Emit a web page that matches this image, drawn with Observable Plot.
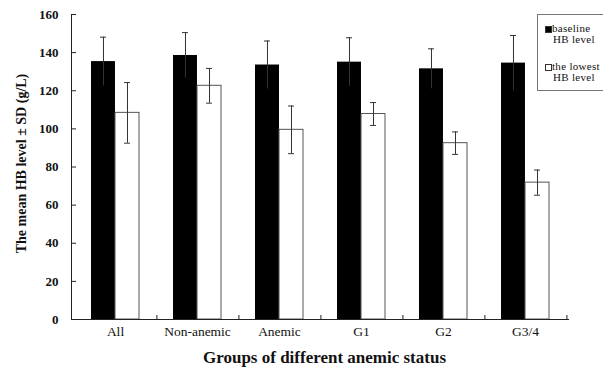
<!DOCTYPE html>
<html>
<head>
<meta charset="utf-8">
<script src="https://cdn.jsdelivr.net/npm/d3@7"></script>
<script src="https://cdn.jsdelivr.net/npm/@observablehq/plot@0.6"></script>
<style>
  html, body { margin: 0; padding: 0; background: #fff; }
  #wrap { position: relative; width: 603px; height: 374px; overflow: hidden; font-family: "Liberation Serif", "Times New Roman", serif; }
  #legend { position: absolute; left: 537px; top: 14px; width: 80px; height: 77px; border: 1px solid #777; box-sizing: border-box; font-size: 11px; color: #111; letter-spacing: 0.3px; }
  .item { position: absolute; left: 7px; line-height: 11px; }
  .sw { position: absolute; left: 0; width: 5px; height: 5px; border: 1px solid #333; }
  .txt { position: absolute; left: 7px; white-space: nowrap; }
</style>
</head>
<body>
<div id="wrap">
  <div id="chart"></div>
  <div id="legend"></div>
</div>
<script>
const groups = ["All", "Non-anemic", "Anemic", "G1", "G2", "G3/4"];
const baselineMean = [135.3, 138.5, 133.5, 135.0, 131.5, 134.5];
const baselineSD = [12.8, 12.0, 12.6, 12.8, 10.5, 14.5];
const lowestMean = [108.4, 122.6, 99.5, 107.8, 92.5, 71.8];
const lowestSD = [15.9, 9.1, 12.5, 6.0, 5.9, 6.6];
const yTicks = [0, 20, 40, 60, 80, 100, 120, 140, 160];
const seriesNames = ["baseline\nHB level", "the lowest\nHB level"];
const seriesColors = ["#000", "#fff"];

const data = groups.map((g, i) => ({
  group: g,
  base: baselineMean[i], baseSD: baselineSD[i],
  low: lowestMean[i], lowSD: lowestSD[i]
}));

const W = 603, H = 374, mL = 71, mR = 35, mT = 14, mB = 55;
const step = (W - mL - mR) / groups.length;
const bw = step * 0.58;
const half = bw / 2;
const cap = 3;
const serif = "Liberation Serif, Times New Roman, serif";

const chart = Plot.plot({
  width: W, height: H,
  marginLeft: mL, marginRight: mR, marginTop: mT, marginBottom: mB,
  style: { fontFamily: serif, background: "#fff", color: "#111" },
  x: { type: "band", domain: groups, paddingInner: 0.42, paddingOuter: 0.21 },
  y: { domain: [0, 160] },
  marks: [
    Plot.barY(data, { x: "group", y: "base", fill: seriesColors[0], insetRight: half }),
    Plot.barY(data, { x: "group", y: "low", fill: seriesColors[1], stroke: "#555", strokeWidth: 1, insetLeft: half }),
    // error bars baseline
    Plot.ruleX(data, { x: "group", y1: d => d.base - d.baseSD, y2: d => d.base + d.baseSD, dx: -half / 2, stroke: "#333" }),
    Plot.tickY(data, { x: "group", y: d => d.base + d.baseSD, insetLeft: half / 2 - cap, insetRight: bw - half / 2 - cap, stroke: "#333" }),
    // error bars lowest
    Plot.ruleX(data, { x: "group", y1: d => d.low - d.lowSD, y2: d => d.low + d.lowSD, dx: half / 2, stroke: "#333" }),
    Plot.tickY(data, { x: "group", y: d => d.low + d.lowSD, insetLeft: bw - half / 2 - cap, insetRight: half / 2 - cap, stroke: "#333" }),
    Plot.tickY(data, { x: "group", y: d => d.low - d.lowSD, insetLeft: bw - half / 2 - cap, insetRight: half / 2 - cap, stroke: "#333" }),
    // axis lines
    Plot.frame({ anchor: "left", stroke: "#222" }),
    Plot.frame({ anchor: "bottom", stroke: "#222" }),
    // y ticks inward
    Plot.axisY({ ticks: yTicks, tickSize: 5, dx: 5, tickFormat: () => "", stroke: "#222", label: null }),
    Plot.axisY({ ticks: yTicks, tickSize: 0, tickPadding: 13, fontSize: 13, fontWeight: "bold", label: null, fill: "#111" }),
    // x boundary ticks inward
    Plot.axisX({ tickSize: 4, dy: -4, dx: step / 2, tickFormat: () => "", stroke: "#222", label: null }),
    Plot.axisX({ tickSize: 0, tickPadding: 7, fontSize: 13.5, label: null, fill: "#111", style: { letterSpacing: "1px" } }),
    // titles
    Plot.text(["Groups of different anemic status"], { frameAnchor: "bottom", textAnchor: "middle", dx: 4.5, dy: 43, fontSize: 17, fontWeight: "bold", fill: "#111", style: { letterSpacing: "1.3px" } }),
    Plot.text(["The mean HB level ± SD (g/L)"], { frameAnchor: "left", textAnchor: "middle", rotate: -90, dx: -50, dy: -3.5, fontSize: 14, fontWeight: "bold", fill: "#111" })
  ]
});
document.getElementById("chart").appendChild(chart);

// legend
const legend = document.getElementById("legend");
const tops = [8, 46];
seriesNames.forEach((name, i) => {
  const item = document.createElement("div");
  item.className = "item";
  item.style.top = tops[i] + "px";
  const sw = document.createElement("span");
  sw.className = "sw";
  sw.style.background = seriesColors[i];
  sw.style.top = "3px";
  item.appendChild(sw);
  name.split("\n").forEach((line, j) => {
    const t = document.createElement("span");
    t.className = "txt";
    t.textContent = line;
    t.style.top = (j * 11) + "px";
    if (j > 0) t.style.left = "8px";
    item.appendChild(t);
  });
  legend.appendChild(item);
});
</script>
</body>
</html>
